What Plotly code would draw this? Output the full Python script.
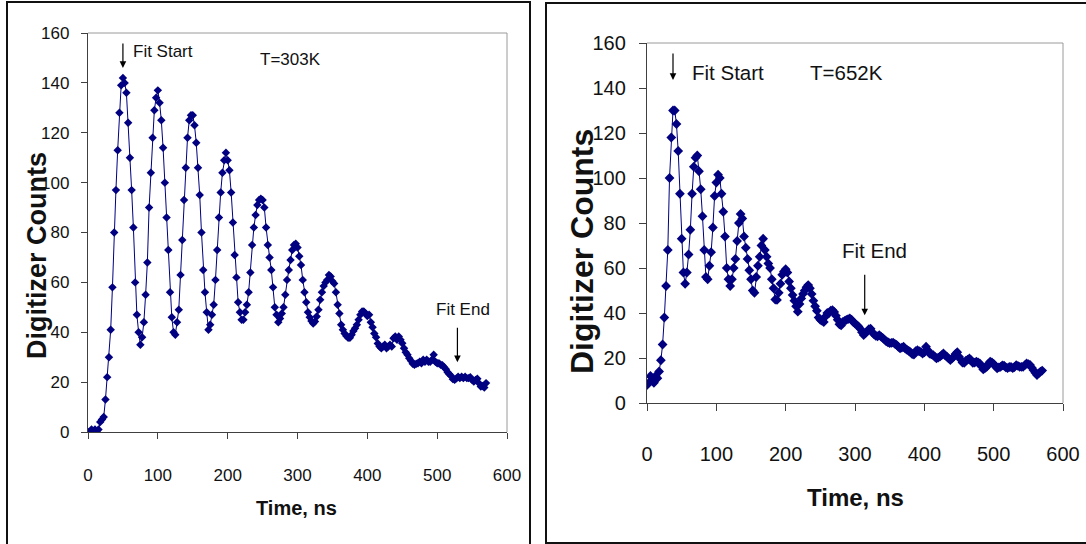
import plotly.graph_objects as go

# Digitizer traces, one sample every 2.5 ns
SAMPLE_NS = 2.5

counts_303K = [
    0, 0, 1, 0, 1, 0, 1, 4, 5, 6,
    13, 22, 30, 41, 58, 80, 97, 113, 128, 139,
    142, 140, 136, 124, 110, 97, 82, 60, 47, 40,
    35, 38, 44, 55, 68, 90, 104, 118, 129, 134,
    137, 132, 125, 114, 100, 86, 73, 56, 46, 40,
    39, 44, 49, 63, 77, 93, 106, 118, 125, 127,
    127, 123, 116, 106, 95, 80, 65, 56, 48, 41,
    43, 47, 51, 61, 73, 86, 96, 104, 109, 112,
    109, 105, 96, 84, 71, 62, 52, 48, 45, 45,
    48, 51, 56, 64, 75, 82, 87, 91, 93, 93.5,
    93, 90, 82, 75, 70, 65, 58, 50, 47, 44,
    45.5, 47.5, 50, 55, 61, 65, 69, 73, 75, 75.5,
    74, 70.5, 67, 61, 56, 52, 48, 46, 44.5, 43.5,
    44.3, 46.3, 49, 53, 56, 58.5, 60, 61, 63, 62.4,
    60.5, 59.5, 56, 51, 47.5, 43, 41, 39.5, 38.5, 37.8,
    37.8, 39, 40.5, 41.6, 43, 45, 47, 48.3, 48.3, 47.5,
    46.5, 47, 44, 42, 39.5, 38, 35.5, 34.3, 33.6, 34.3,
    35, 33.6, 34.3, 35, 34.3, 37.6, 38.3, 37, 38.3, 37,
    35.6, 33.6, 32, 31, 29.6, 28.6, 27.4, 27, 27.4, 27.6,
    28.2, 27.6, 29, 28.2, 29, 28.2, 28.2, 29, 31, 28.2,
    27.6, 27.6, 27, 26.8, 26, 25.2, 24, 23.2, 22.5, 21.2,
    20.9, 21.5, 22.2, 21.6, 22.2, 21.6, 22.2, 21.6, 21.6, 22,
    20.9, 20.2, 20.9, 21.4, 19.5, 18.2, 18.4, 17.8, 19.6,
]

counts_652K = [
    8, 9, 12, 10, 9, 12, 11, 14, 19, 26,
    38, 52, 68, 100, 118, 130, 130, 124, 112, 93,
    73, 58, 53, 58, 66, 77, 93, 105, 109, 110,
    103, 95, 83, 68, 56, 55, 61, 67, 78, 92,
    98, 101.5, 100, 93, 85, 74, 60, 55, 52, 55,
    60, 64, 72, 80, 84, 82, 74, 69, 64, 59,
    55, 50, 49, 56, 61, 65, 70, 73, 68, 65,
    62, 60, 55, 51, 46, 45.8, 49, 53, 57, 58.5,
    59.5, 58, 54, 51, 48, 45.5, 43, 40.6, 44, 46.5,
    48.5, 50, 51.5, 52.4, 51, 48.5, 45.5, 43, 41, 38,
    37, 36.5, 36, 38.5, 40, 40, 41, 41.3, 40.5, 38.8,
    37, 35, 34.5, 36, 36.5, 36.9, 37.3, 37.6, 37, 36,
    35.3, 34.7, 34, 33, 31.5, 30.2, 31, 31.8, 32.8, 33,
    31.5, 30.5, 29.8, 29.6, 30.2, 29.5, 28.9, 28.2, 27.4, 27,
    26.6, 26.7, 26.8, 26.3, 25.8, 25, 24.3, 24.6, 25, 24.2,
    23.6, 23.2, 22.6, 21.7, 21.5, 23, 23.5, 23, 22.7, 22,
    22.5, 25, 23.5, 22, 21.6, 21.4, 20.6, 19.8, 20.2, 20.6,
    21.3, 22, 21.2, 20.6, 19.8, 19.1, 19.8, 20.6, 21.8, 22.6,
    20.6, 19.3, 18, 17.8, 18.8, 19.3, 19.8, 19, 17.8, 17.9,
    18.4, 18, 17.6, 16.2, 14.9, 15.5, 16.1, 17.4, 18.4, 18,
    17.4, 16.3, 15.4, 15.8, 16.1, 16.7, 16.6, 15.8, 15.5, 16,
    16, 15.5, 16, 16.8, 16.5, 16.1, 16.1, 16.1, 16.8, 17.6,
    17.3, 16.9, 15.7, 14.6, 13.4, 12.4, 13.2, 13.9, 14.4,
]

time_303K = [i * SAMPLE_NS for i in range(len(counts_303K))]
time_652K = [i * SAMPLE_NS for i in range(len(counts_652K))]

x_ticks = [0, 100, 200, 300, 400, 500, 600]
y_ticks = [0, 20, 40, 60, 80, 100, 120, 140, 160]

# Fit window markers (ns)
fit_start_303K, fit_end_303K = 50, 529
fit_start_652K, fit_end_652K = 37.5, 314

W, H = 1086, 544
NAVY = "#000080"
FONT = "Liberation Sans, Arial, sans-serif"


def px(x):
    return x / W


def py(y):
    return 1 - y / H


fig = go.Figure()

fig.add_trace(go.Scatter(
    x=time_303K, y=counts_303K, mode="lines+markers",
    line=dict(color=NAVY, width=1),
    marker=dict(symbol="diamond", size=6.5, color=NAVY),
    xaxis="x", yaxis="y", showlegend=False,
))
fig.add_trace(go.Scatter(
    x=time_652K, y=counts_652K, mode="lines+markers",
    line=dict(color=NAVY, width=1),
    marker=dict(symbol="diamond", size=7.5, color=NAVY),
    xaxis="x2", yaxis="y2", showlegend=False,
))

axis_common = dict(
    range=[0, 600], tickvals=x_ticks, ticks="outside", ticklen=6, tickwidth=1,
    tickcolor="#404040", showline=True, linecolor="#404040", linewidth=1.3,
    showgrid=False, zeroline=False, automargin=False,
)
yaxis_common = dict(
    range=[0, 160], tickvals=y_ticks, ticks="outside", ticklen=6, tickwidth=1,
    tickcolor="#404040", showline=True, linecolor="#404040", linewidth=1.3,
    showgrid=False, zeroline=False, automargin=False,
)

fig.update_layout(
    template="none",
    width=W, height=H, autosize=False,
    margin=dict(l=0, r=0, t=0, b=0, pad=0),
    paper_bgcolor="white", plot_bgcolor="white",
    xaxis=dict(axis_common, domain=[px(88), px(507)], anchor="y",
               tickfont=dict(family=FONT, size=17, color="#111"),
               ticklabelstandoff=21),
    yaxis=dict(yaxis_common, domain=[py(432), py(33)], anchor="x",
               tickfont=dict(family=FONT, size=17, color="#111"),
               ticklabelstandoff=8),
    xaxis2=dict(axis_common, domain=[px(647), px(1063)], anchor="y2",
                tickfont=dict(family=FONT, size=20, color="#111"),
                ticklen=7, ticklabelstandoff=26),
    yaxis2=dict(yaxis_common, domain=[py(403), py(43)], anchor="x2",
                tickfont=dict(family=FONT, size=20, color="#111"),
                ticklen=7, ticklabelstandoff=9),
)

shapes = []
# plot-area box: top and right edges
for x0, x1, y0, y1 in [(88, 507, 33, 432), (647, 1063, 43, 403)]:
    shapes.append(dict(type="line", xref="paper", yref="paper",
                       x0=px(x0), x1=px(x1), y0=py(y0), y1=py(y0),
                       line=dict(color="#9a9a9a", width=1)))
    shapes.append(dict(type="line", xref="paper", yref="paper",
                       x0=px(x1), x1=px(x1), y0=py(y0), y1=py(y1),
                       line=dict(color="#9a9a9a", width=1)))
# outer panel frames
shapes.append(dict(type="rect", xref="paper", yref="paper",
                   x0=px(7), x1=px(530), y0=py(560), y1=py(2),
                   line=dict(color="#111", width=2), fillcolor="rgba(0,0,0,0)"))
shapes.append(dict(type="rect", xref="paper", yref="paper",
                   x0=px(546), x1=px(1100), y0=py(543), y1=py(3),
                   line=dict(color="#111", width=2), fillcolor="rgba(0,0,0,0)"))
fig.update_layout(shapes=shapes)

ann = []


def arrow(xref, yref, x, y, length):
    ann.append(dict(xref=xref, yref=yref, x=x, y=y, text="", showarrow=True,
                    ax=0, ay=-length, arrowhead=2, arrowsize=1.1, arrowwidth=1.2,
                    arrowcolor="#000"))


def label(xref, yref, x, y, text, size):
    ann.append(dict(xref=xref, yref=yref, x=x, y=y, text=text, showarrow=False,
                    xanchor="left", yanchor="middle",
                    font=dict(family=FONT, size=size, color="#111")))


# 303 K panel
arrow("x", "y", fit_start_303K, 146, 26)
label("x", "y", 62, 152.6, "Fit Start", 17)
label("x", "y", 243, 149.4, "T=303K", 17)
arrow("x", "y", fit_end_303K, 28, 36)
label("x", "y", 496, 49, "Fit End", 17)

# 652 K panel
arrow("x2", "y2", fit_start_652K, 143.6, 28)
label("x2", "y2", 62, 147, "Fit Start", 20.5)
label("x2", "y2", 232, 147, "T=652K", 20.5)
arrow("x2", "y2", fit_end_652K, 39, 42)
label("x2", "y2", 278, 68, "Fit End", 20.5)

# axis titles
ann.append(dict(xref="paper", yref="paper", x=px(296), y=py(508), text="<b>Time, ns</b>",
                showarrow=False, xanchor="center", yanchor="middle",
                font=dict(family=FONT, size=20, color="#111")))
ann.append(dict(xref="paper", yref="paper", x=px(855), y=py(497), text="<b>Time, ns</b>",
                showarrow=False, xanchor="center", yanchor="middle",
                font=dict(family=FONT, size=24, color="#111")))
ann.append(dict(xref="paper", yref="paper", x=px(37), y=py(256), text="<b>Digitizer Counts</b>",
                showarrow=False, xanchor="center", yanchor="middle", textangle=-90,
                font=dict(family=FONT, size=27, color="#111")))
ann.append(dict(xref="paper", yref="paper", x=px(582), y=py(252), text="<b>Digitizer Counts</b>",
                showarrow=False, xanchor="center", yanchor="middle", textangle=-90,
                font=dict(family=FONT, size=32, color="#111")))
fig.update_layout(annotations=ann)

fig.write_html(
    "out.html",
    post_script="document.body.style.margin='0';",
)
